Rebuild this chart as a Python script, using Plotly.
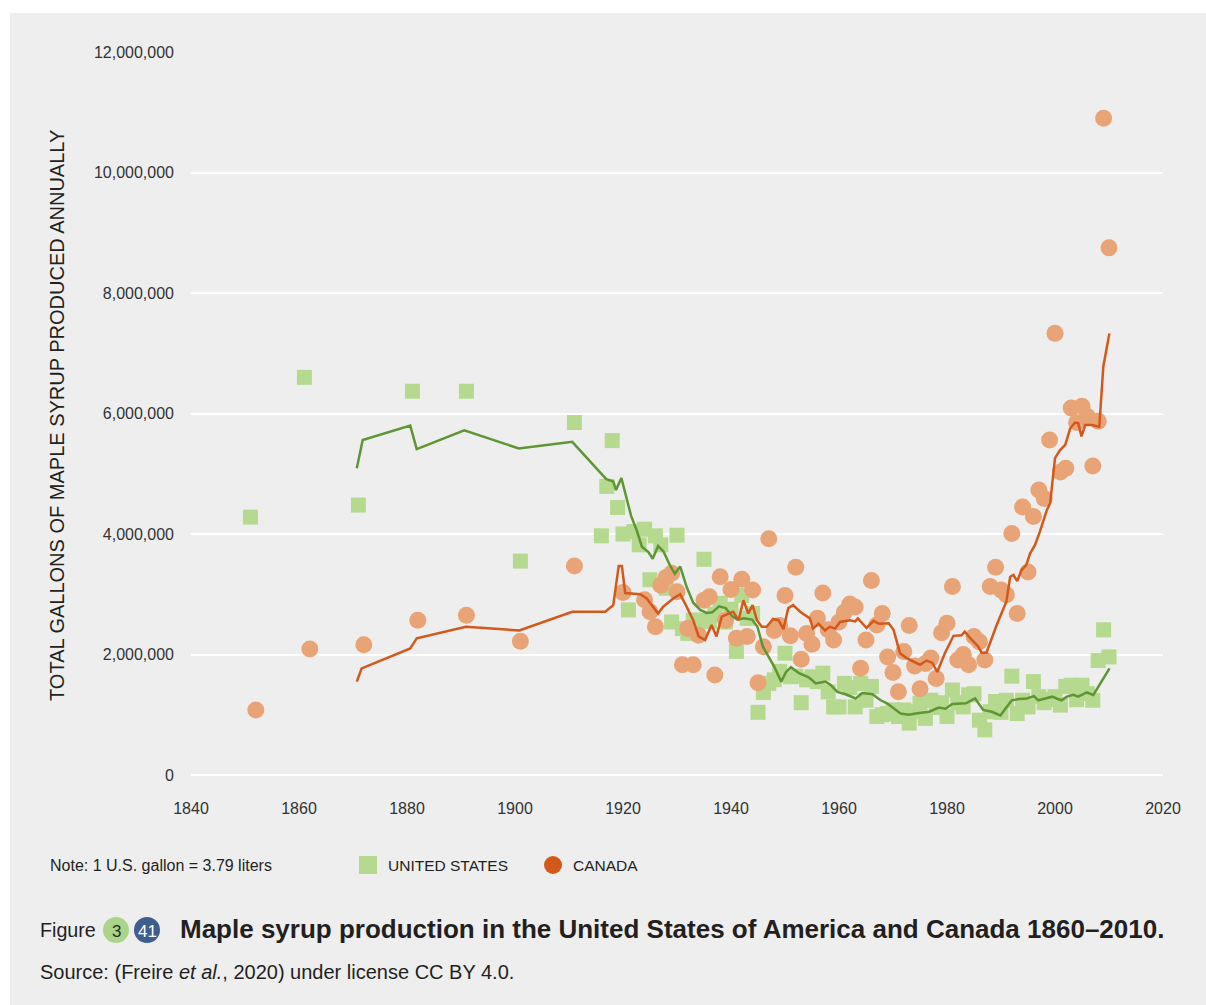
import plotly.graph_objects as go

# ---------------- data (values in millions of gallons) ----------------
US_YEARS = [1851, 1861, 1871, 1881, 1891, 1901, 1911,
            1916, 1917, 1918, 1919, 1920, 1921, 1922, 1923, 1924, 1925, 1926, 1927, 1928, 1929,
            1930, 1931, 1932, 1933, 1934, 1935, 1936, 1937, 1938, 1939,
            1940, 1941, 1942, 1943, 1944, 1945, 1946, 1947, 1948, 1949,
            1950, 1951, 1952, 1953, 1954, 1955, 1956, 1957, 1958, 1959,
            1960, 1961, 1962, 1963, 1964, 1965, 1966, 1967, 1968, 1969,
            1970, 1971, 1972, 1973, 1974, 1975, 1976, 1977, 1978, 1979,
            1980, 1981, 1982, 1983, 1984, 1985, 1986, 1987, 1988, 1989,
            1990, 1991, 1992, 1993, 1994, 1995, 1996, 1997, 1998, 1999,
            2000, 2001, 2002, 2003, 2004, 2005, 2006, 2007, 2008, 2009, 2010]
US_VALUES = [4.28, 6.60, 4.48, 6.37, 6.37, 3.55, 5.85,
             3.97, 4.79, 5.55, 4.44, 4.00, 2.74, 4.04, 3.82, 4.08, 3.24, 3.97, 3.82, 3.10, 2.54,
             3.98, 2.43, 2.35, 2.57, 2.57, 3.58, 2.55, 2.67, 2.85, 2.54,
             2.75, 2.05, 2.98, 2.60, 2.68, 1.04, 1.37, 1.52, 1.58, 1.72,
             2.02, 1.63, 1.64, 1.20, 1.58, 1.63, 1.55, 1.69, 1.38, 1.13,
             1.13, 1.52, 1.45, 1.13, 1.52, 1.24, 1.47, 0.97, 1.00, 1.02,
             1.08, 0.97, 1.08, 0.86, 1.05, 1.19, 0.94, 1.24, 1.12, 1.20,
             0.97, 1.41, 1.20, 1.13, 1.33, 1.35, 0.91, 0.75, 1.05, 1.22,
             1.04, 1.24, 1.64, 1.02, 1.24, 1.13, 1.55, 1.30, 1.20, 1.25,
             1.30, 1.16, 1.47, 1.49, 1.25, 1.49, 1.35, 1.24, 1.90, 2.41, 1.96]

CA_YEARS = [1852, 1862, 1872, 1882, 1891, 1901, 1911,
            1920, 1924, 1925, 1926, 1927, 1928, 1929,
            1930, 1931, 1932, 1933, 1934, 1935, 1936, 1937, 1938, 1939,
            1940, 1941, 1942, 1943, 1944, 1945, 1946, 1947, 1948, 1949,
            1950, 1951, 1952, 1953, 1954, 1955, 1956, 1957, 1958, 1959,
            1960, 1961, 1962, 1963, 1964, 1965, 1966, 1967, 1968, 1969,
            1970, 1971, 1972, 1973, 1974, 1975, 1976, 1977, 1978, 1979,
            1980, 1981, 1982, 1983, 1984, 1985, 1986, 1987, 1988, 1989,
            1990, 1991, 1992, 1993, 1994, 1995, 1996, 1997, 1998, 1999,
            2000, 2001, 2002, 2003, 2004, 2005, 2006, 2007, 2008, 2009, 2010]
CA_VALUES = [1.08, 2.09, 2.16, 2.57, 2.65, 2.22, 3.47,
             3.03, 2.91, 2.71, 2.46, 3.15, 3.28, 3.35,
             3.04, 1.83, 2.43, 1.83, 2.32, 2.90, 2.96, 1.66, 3.29, 2.57,
             3.08, 2.27, 3.25, 2.30, 3.07, 1.53, 2.13, 3.92, 2.40, 2.48,
             2.98, 2.31, 3.45, 1.92, 2.35, 2.17, 2.60, 3.02, 2.41, 2.24,
             2.54, 2.70, 2.84, 2.79, 1.77, 2.24, 3.23, 2.49, 2.68, 1.96,
             1.70, 1.38, 2.05, 2.48, 1.81, 1.43, 1.85, 1.94, 1.60, 2.36,
             2.52, 3.13, 1.91, 2.00, 1.83, 2.30, 2.21, 1.91, 3.13, 3.45,
             3.07, 2.99, 4.01, 2.68, 4.45, 3.37, 4.29, 4.73, 4.59, 5.56,
             7.33, 5.03, 5.09, 6.09, 5.85, 6.12, 5.95, 5.13, 5.87, 10.90, 8.75]

# trend lines (as drawn in the reference)
US_TREND_YEARS = [1870.7, 1871.8, 1880.6, 1881.8, 1890.6, 1900.7, 1910.6, 1916.9, 1918.2, 1918.7,
                  1919.7, 1920.7, 1921.5, 1922.5, 1923.5, 1924.7, 1925.5, 1926.5, 1927.5, 1928.7,
                  1929.6, 1930.6, 1931.8, 1933.0, 1934.3, 1935.5, 1936.5, 1937.8, 1939.0, 1940.2,
                  1941.2, 1942.4, 1943.9, 1944.9, 1945.9, 1948.0, 1949.3, 1950.2, 1951.1, 1952.6,
                  1954.4, 1955.7, 1957.5, 1958.4, 1959.7, 1961.2, 1963.1, 1964.3, 1966.2, 1967.7,
                  1968.9, 1971.4, 1972.9, 1974.2, 1976.7, 1978.5, 1979.7, 1981.0, 1983.5, 1985.2,
                  1986.7, 1988.3, 1989.9, 1992.0, 1993.3, 1994.8, 1996.1, 1996.9, 1998.2, 1999.5,
                  2000.3, 2001.2, 2002.2, 2003.4, 2004.3, 2005.9, 2007.1, 2010.1]
US_TREND_VALUES = [5.09, 5.56, 5.80, 5.41, 5.72, 5.42, 5.53, 4.91, 4.87, 4.73,
                   4.93, 4.55, 4.30, 4.07, 3.79, 3.70, 3.59, 3.80, 3.71, 3.48,
                   3.34, 3.46, 3.12, 2.86, 2.74, 2.69, 2.70, 2.80, 2.77, 2.64,
                   2.58, 2.60, 2.58, 2.46, 2.13, 1.80, 1.55, 1.71, 1.79, 1.69,
                   1.62, 1.52, 1.55, 1.50, 1.38, 1.34, 1.27, 1.36, 1.34, 1.24,
                   1.19, 1.02, 1.00, 1.02, 1.05, 1.12, 1.10, 1.18, 1.19, 1.27,
                   1.08, 1.05, 0.99, 1.24, 1.26, 1.27, 1.31, 1.24, 1.27, 1.30,
                   1.27, 1.24, 1.30, 1.33, 1.30, 1.37, 1.33, 1.77]

CA_TREND_YEARS = [1870.7, 1871.6, 1880.6, 1881.8, 1890.9, 1900.8, 1910.6, 1916.7, 1918.2, 1919.2,
                  1919.8, 1920.4, 1923.2, 1924.4, 1926.5, 1927.4, 1929.3, 1930.6, 1931.8, 1933.0,
                  1934.0, 1935.2, 1936.4, 1937.3, 1938.3, 1940.4, 1941.4, 1942.3, 1943.2, 1944.0,
                  1944.8, 1945.7, 1946.6, 1947.8, 1948.8, 1949.7, 1950.6, 1951.5, 1952.8, 1954.6,
                  1955.2, 1956.2, 1957.4, 1958.3, 1959.3, 1960.2, 1962.0, 1963.0, 1963.5, 1965.1,
                  1966.4, 1967.4, 1969.2, 1970.1, 1971.3, 1972.5, 1975.0, 1976.2, 1977.3, 1978.2,
                  1979.6, 1981.2, 1982.7, 1983.3, 1984.3, 1985.8, 1986.4, 1987.3, 1989.2, 1991.0,
                  1991.7, 1992.3, 1993.0, 1993.8, 1994.7, 1995.4, 1996.3, 1997.2, 1998.5, 1999.1,
                  2000.0, 2000.9, 2001.9, 2002.8, 2003.7, 2004.3, 2004.9, 2005.6, 2006.8, 2008.2,
                  2008.95, 2010.07]
CA_TREND_VALUES = [1.55, 1.77, 2.10, 2.27, 2.46, 2.40, 2.71, 2.71, 2.82, 3.47,
                   3.47, 3.02, 3.00, 2.93, 2.68, 2.79, 2.93, 3.00, 2.79, 2.57,
                   2.30, 2.24, 2.49, 2.30, 2.63, 2.71, 2.57, 2.90, 2.68, 2.82,
                   2.57, 2.46, 2.46, 2.59, 2.57, 2.42, 2.77, 2.82, 2.71, 2.60,
                   2.43, 2.51, 2.40, 2.46, 2.43, 2.54, 2.57, 2.55, 2.60, 2.44,
                   2.56, 2.51, 2.52, 2.41, 2.02, 1.94, 1.83, 1.90, 1.86, 1.71,
                   2.02, 2.31, 2.32, 2.38, 2.27, 2.13, 2.03, 2.03, 2.49, 2.88,
                   3.29, 3.32, 3.22, 3.40, 3.49, 3.68, 3.82, 4.04, 4.40, 4.51,
                   5.26, 5.39, 5.48, 5.75, 5.85, 5.84, 5.62, 5.81, 5.81, 5.78,
                   6.78, 7.33]

X_TICKS = [1840, 1860, 1880, 1900, 1920, 1940, 1960, 1980, 2000, 2020]
Y_TICKS = [0, 2000000, 4000000, 6000000, 8000000, 10000000, 12000000]

MILLION = 1_000_000

# ---------------- styling ----------------
FONT = "Liberation Sans, Arial, Helvetica, sans-serif"
BG = "#eeeeee"
US_MARK = "#b5d98e"
US_LINE = "#5f9634"
CA_MARK = "#e8a377"
CA_LINE = "#d4581a"
TXT = "#231f20"

W, H = 1206, 1005
L, R, T, B = 191, 1163, 52, 775   # plot area in pixels


def px(x):
    return (x - L) / (R - L)


def py(y):
    return (B - y) / (B - T)


fig = go.Figure()
fig.add_trace(go.Scatter(
    x=US_YEARS, y=[v * MILLION for v in US_VALUES], mode="markers",
    marker=dict(symbol="square", size=15, color=US_MARK, line=dict(width=0)),
    name="UNITED STATES", hoverinfo="skip"))
fig.add_trace(go.Scatter(
    x=CA_YEARS, y=[v * MILLION for v in CA_VALUES], mode="markers",
    marker=dict(symbol="circle", size=17, color=CA_MARK, line=dict(width=0)),
    name="CANADA", hoverinfo="skip"))
fig.add_trace(go.Scatter(
    x=US_TREND_YEARS, y=[v * MILLION for v in US_TREND_VALUES], mode="lines",
    line=dict(color=US_LINE, width=2.5), hoverinfo="skip"))
fig.add_trace(go.Scatter(
    x=CA_TREND_YEARS, y=[v * MILLION for v in CA_TREND_VALUES], mode="lines",
    line=dict(color=CA_LINE, width=2.5), hoverinfo="skip"))

shapes = [
    # grey panel
    dict(type="rect", xref="paper", yref="paper", x0=px(10), x1=px(1206), y0=py(1005), y1=py(13),
         fillcolor=BG, line=dict(width=0), layer="below"),
    # legend symbols
    dict(type="rect", xref="paper", yref="paper", x0=px(359), x1=px(377), y0=py(874), y1=py(856),
         fillcolor=US_MARK, line=dict(width=0)),
    dict(type="circle", xref="paper", yref="paper", x0=px(544), x1=px(562), y0=py(874), y1=py(856),
         fillcolor=CA_LINE, line=dict(width=0)),
    # figure badges
    dict(type="circle", xref="paper", yref="paper", x0=px(103), x1=px(129), y0=py(943), y1=py(917),
         fillcolor="#a9d48a", line=dict(width=0)),
    dict(type="circle", xref="paper", yref="paper", x0=px(134), x1=px(160), y0=py(943), y1=py(917),
         fillcolor="#3f5d8e", line=dict(width=0)),
]


def ann(text, x, y, size, xanchor="left", color=TXT, **kw):
    return dict(text=text, xref="paper", yref="paper", x=px(x), y=py(y), xanchor=xanchor,
                yanchor="middle", showarrow=False, font=dict(family=FONT, size=size, color=color), **kw)


annotations = [
    ann("TOTAL GALLONS OF MAPLE SYRUP PRODUCED ANNUALLY", 57, 416, 20, xanchor="center", textangle=-90),
    ann("Note: 1 U.S. gallon = 3.79 liters", 48, 865, 16),
    ann("UNITED STATES", 386, 865, 15.5),
    ann("CANADA", 571, 865, 15.5),
    ann("Figure", 38, 930, 19.7),
    ann("3", 116, 931, 17, xanchor="center", color="#2b2b2b"),
    ann("41", 147, 931, 17, xanchor="center", color="#ffffff"),
    ann("<b>Maple syrup production in the United States of America and Canada 1860–2010.</b>",
        178, 929, 26),
    ann("Source: (Freire <i>et al.</i>, 2020) under license CC BY 4.0.", 38, 972, 20),
]

fig.update_layout(
    width=W, height=H, autosize=False,
    margin=dict(l=L, r=W - R, t=T, b=H - B, pad=0),
    paper_bgcolor="white", plot_bgcolor=BG,
    showlegend=False,
    font=dict(family=FONT, color=TXT),
    shapes=shapes, annotations=annotations,
    xaxis=dict(range=[1840, 2020], tickvals=X_TICKS, showgrid=False, zeroline=False,
               showline=False, ticks="", ticklabelstandoff=22,
               tickfont=dict(family=FONT, size=16, color="#333333"), fixedrange=True),
    yaxis=dict(range=[0, 12 * MILLION], tickvals=Y_TICKS, tickformat=",d",
               showgrid=True, gridcolor="white", gridwidth=2,
               zeroline=True, zerolinecolor="white", zerolinewidth=2,
               showline=False, ticks="", ticklabelstandoff=16,
               tickfont=dict(family=FONT, size=16, color="#333333"), fixedrange=True),
)

# remove the browser's default page margin so the figure sits at the window origin
fig.write_html(
    "out.html",
    config={"displayModeBar": False, "staticPlot": True},
    post_script="document.body.style.margin='0px';document.body.style.overflow='hidden';",
)
